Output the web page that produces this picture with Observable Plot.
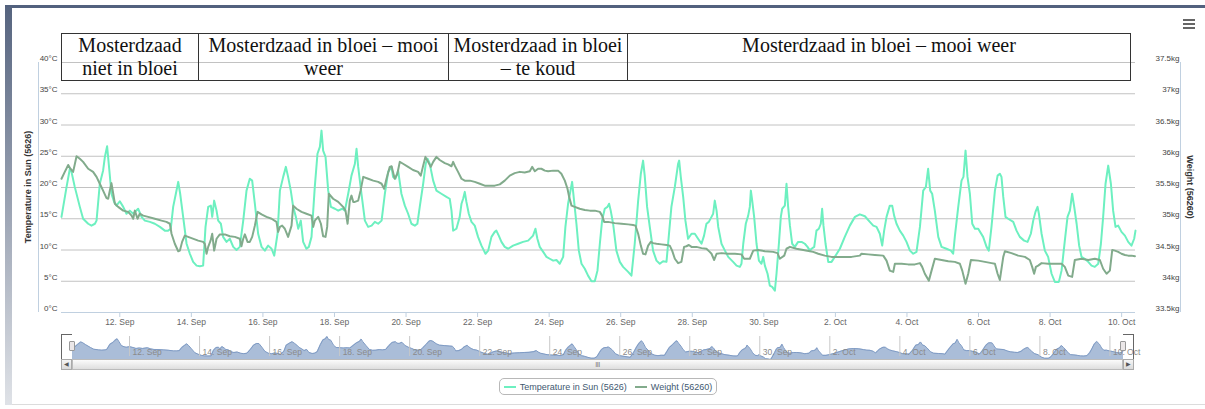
<!DOCTYPE html>
<html>
<head>
<meta charset="utf-8">
<script src="https://cdn.jsdelivr.net/npm/d3@7"></script>
<script src="https://cdn.jsdelivr.net/npm/@observablehq/plot@0.6"></script>
<style>
  html, body { margin: 0; padding: 0; background: #fff; }
  body { width: 1205px; height: 409px; position: relative; overflow: hidden; font-family: "Liberation Sans", Arial, sans-serif; }
  .abs { position: absolute; }
  #topline { left: 5px; top: 5px; width: 1200px; height: 2.5px; background: #52617e; }
  #leftstrip { left: 5px; top: 7px; width: 7px; height: 398px; background: linear-gradient(#56647f, #dfe2e7); }
  #panel { left: 12px; top: 9px; width: 1193px; height: 395px; background: #fff; border-top-left-radius: 6px; border-bottom: 1px solid #dcdcdc; }
  #main, #nav { position: absolute; left: 0; }
  #main { top: 0; }
  #nav { top: 333px; }
  table.notes { position: absolute; left: 61px; top: 33px; border-collapse: collapse; table-layout: fixed; width: 1069px;
    font-family: "Liberation Serif", "Times New Roman", serif; font-size: 20px; line-height: 23px; color: #111; }
  table.notes td { border: 1px solid #333; vertical-align: top; text-align: center; padding: 0 2px; height: 46px; }
  .ytitle { position: absolute; font-weight: bold; font-size: 9px; color: #333; white-space: nowrap; }
  #legend { left: 499px; top: 378px; width: 218px; height: 17px; border: 1px solid #b8b8b8; border-radius: 5px; box-sizing: border-box;
    font-size: 9px; color: #3E576F; display: flex; align-items: center; justify-content: center; gap: 8px; }
  #legend .item { display: flex; align-items: center; gap: 4px; }
  #legend .sw { width: 12px; height: 2px; }
  #menu { left: 1183px; top: 19px; width: 12px; }
  #menu div { height: 2px; background: #666; margin-bottom: 2px; }
  #scroll { left: 61px; top: 359px; width: 1073px; height: 11px; box-sizing: border-box; border: 1px solid #bbb; background: linear-gradient(#f4f4f4, #d9d9d9); }
  #thumb { left: 72px; top: 359px; width: 1051px; height: 11px; box-sizing: border-box; border: 1px solid #bbb; background: linear-gradient(#fbfbfb, #dedede);
    font-size: 7px; color: #777; text-align: center; line-height: 9px; letter-spacing: -0.5px; }
  .btn { top: 359px; width: 11px; height: 11px; box-sizing: border-box; border: 1px solid #aaa; background: linear-gradient(#f6f6f6, #dadada); font-size: 6px; color: #555; text-align: center; line-height: 9px; }
  .handle { top: 341px; width: 6px; height: 10px; box-sizing: border-box; border: 1px solid #999; border-radius: 1px; background: #ebe7e8; }
  .outline { background: #666; }
</style>
</head>
<body>
<div id="topline" class="abs"></div>
<div id="leftstrip" class="abs"></div>
<div id="panel" class="abs"></div>
<div id="main"></div>
<div id="nav"></div>

<div class="abs" id="scroll"></div>
<div class="abs" id="thumb">III</div>
<div class="abs btn" style="left:61px">&#9664;</div>
<div class="abs btn" style="left:1123px">&#9654;</div>
<div class="abs outline" style="left:61px; top:334px; width:11px; height:1px"></div>
<div class="abs outline" style="left:61px; top:334px; width:1px; height:25px"></div>
<div class="abs outline" style="left:1123px; top:334px; width:11px; height:1px"></div>
<div class="abs outline" style="left:1133px; top:334px; width:1px; height:25px"></div>
<div class="abs handle" style="left:69px"></div>
<div class="abs handle" style="left:1120px"></div>

<div class="abs" id="menu"><div></div><div></div><div></div></div>

<div class="ytitle" id="ltitle">Temperature in Sun (5626)</div>
<div class="ytitle" id="rtitle">Weight (56260)</div>

<table class="notes">
  <colgroup><col style="width:137px"><col style="width:250px"><col style="width:179px"><col style="width:503px"></colgroup>
  <tr>
    <td>Mosterdzaad niet in bloei</td>
    <td>Mosterdzaad in bloei – mooi weer</td>
    <td>Mosterdzaad in bloei – te koud</td>
    <td>Mosterdzaad in bloei – mooi weer</td>
  </tr>
</table>

<div class="abs" id="legend">
  <div class="item"><div class="sw" style="background:#6df0c0"></div><span>Temperature in Sun (5626)</span></div>
  <div class="item"><div class="sw" style="background:#82ab8c"></div><span>Weight (56260)</span></div>
</div>

<script>
// ---- data: hours since 12 Sep 00:00, value ----
const temperaturePoints = [
[-39.1,15.3],[-35.7,20.1],[-33.5,23.0],[-32.4,22.5],[-30.2,20.1],[-26.8,16.9],[-24.6,15.0],[-21.2,14.2],[-19.0,13.9],[-16.7,14.2],[-15.6,14.7],[-13.4,20.6],[-11.2,22.7],[-10.0,24.9],[-8.5,26.6],[-7.1,23.0],[-5.6,19.0],[-3.8,17.7],[-2.2,17.1],[0.0,17.8],[2.3,16.9],[4.5,15.8],[6.7,16.3],[9.0,15.8],[12.3,16.6],[14.6,15.3],[16.8,14.7],[20.2,14.5],[23.5,14.2],[26.9,13.7],[30.2,13.1],[32.4,13.1],[34.2,13.4],[35.8,16.9],[37.6,19.0],[39.2,20.9],[40.5,19.0],[42.5,15.3],[44.8,11.0],[47.0,9.4],[49.2,8.1],[51.5,7.5],[53.7,7.4],[55.9,7.5],[57.5,13.7],[59.3,16.9],[61.1,17.1],[62.0,15.3],[63.3,17.9],[64.9,16.3],[66.0,14.7],[67.8,14.2],[69.3,12.1],[71.6,11.3],[73.8,11.8],[76.1,10.5],[78.3,10.0],[80.5,10.5],[82.8,14.7],[85.0,19.5],[87.2,21.4],[88.8,21.1],[90.6,17.4],[92.8,12.6],[95.1,10.5],[97.3,9.9],[99.5,10.7],[101.8,10.2],[103.6,9.1],[105.8,12.6],[107.4,19.5],[109.6,21.7],[111.4,23.3],[112.9,21.7],[114.7,19.5],[116.3,16.9],[118.1,15.3],[119.7,13.4],[121.4,14.7],[123.0,11.3],[125.2,10.2],[126.8,10.5],[128.6,12.1],[130.8,20.1],[132.6,25.4],[134.2,26.5],[135.3,29.1],[136.4,25.9],[138.0,24.9],[139.8,19.5],[141.6,16.9],[144.3,16.6],[146.5,16.3],[149.2,16.6],[151.0,16.3],[153.2,19.0],[155.4,21.9],[157.7,23.8],[158.8,26.2],[159.9,23.3],[162.1,19.0],[164.4,14.7],[166.6,13.7],[168.9,13.9],[171.1,14.5],[173.3,14.2],[175.6,14.7],[177.8,19.0],[180.0,22.5],[182.3,23.3],
[183.3,21.7],[184.9,21.4],[186.7,22.7],[188.9,19.0],[191.2,17.1],[193.4,15.8],[195.6,14.2],[197.9,13.9],[199.6,14.2],[201.2,16.9],[203.5,20.6],[205.2,23.8],[206.4,24.6],[207.9,23.8],[210.2,21.1],[212.4,19.5],[215.7,19.0],[219.1,18.5],[221.3,18.2],[222.5,16.3],[223.6,13.1],[225.8,13.4],[228.0,15.3],[229.2,17.4],[230.3,18.2],[231.4,19.3],[232.5,17.7],[234.1,15.8],[235.9,14.5],[238.1,13.9],[240.3,12.1],[242.6,10.7],[245.3,9.4],[247.1,9.9],[249.3,12.1],[251.5,12.9],[252.6,13.1],[254.2,12.3],[256.0,11.3],[258.2,10.5],[260.5,10.2],[263.8,10.7],[267.2,11.0],[270.5,11.3],[273.9,11.5],[277.2,12.3],[278.8,13.4],[280.1,11.8],[281.7,10.5],[284.0,9.7],[286.2,8.9],[288.4,8.6],[290.7,8.3],[292.9,8.4],[295.1,7.8],[297.4,8.9],[298.9,13.7],[300.7,17.4],[302.3,19.5],[303.4,20.9],[304.7,17.9],[306.3,14.2],[307.9,9.9],[309.7,7.8],[311.9,7.0],[314.1,5.9],[316.4,5.0],[318.6,5.0],[320.4,6.7],[322.0,11.0],[323.5,14.7],[325.3,16.6],[327.1,16.9],[328.2,17.4],[329.3,16.3],[330.9,14.2],[333.1,9.9],[335.4,8.1],[337.6,7.3],[341.0,6.5],[343.2,5.9],[345.4,11.0],[347.7,17.9],[349.5,22.2],[351.0,24.3],[352.1,21.9],[353.7,16.9],[355.5,13.7],[357.7,9.9],[360.0,8.3],[362.2,7.8],[364.4,8.2],[366.7,8.1],[368.2,12.1],[370.0,16.9],[372.3,20.1],[374.5,23.8],[375.2,24.3],[376.3,21.7],[377.9,18.5],[379.4,14.7],[381.2,11.8],[383.5,12.6],[385.7,12.6],[387.9,11.8],[390.2,11.0],[391.9,12.3],[393.5,14.2],[395.1,14.5],[396.9,15.3],
[398.0,15.8],[399.1,17.9],[400.3,16.3],[401.4,13.7],[403.6,11.0],[405.9,9.9],[408.1,8.9],[411.4,8.1],[413.7,7.5],[415.9,7.3],[417.0,7.8],[418.2,11.0],[419.9,14.2],[421.5,15.5],[422.6,16.9],[423.3,19.5],[424.2,17.9],[425.5,15.3],[427.1,11.0],[428.7,8.3],[430.4,7.8],[431.6,8.9],[432.7,7.5],[434.5,6.2],[436.0,4.3],[437.6,4.1],[439.4,3.5],[440.5,6.2],[442.1,11.0],[443.4,15.3],[444.3,16.6],[446.1,17.1],[447.2,20.6],[448.3,16.9],[449.5,13.9],[451.0,11.0],[452.8,10.5],[455.0,11.3],[457.3,11.3],[459.5,11.0],[461.3,10.5],[462.9,9.9],[464.0,10.2],[465.8,10.5],[467.3,13.1],[468.9,13.4],[470.2,14.2],[471.1,16.6],[472.0,13.9],[473.4,11.0],[475.2,8.1],[477.4,8.1],[479.6,8.9],[483.0,10.2],[486.3,12.1],[489.7,13.9],[493.1,15.3],[496.4,15.7],[499.8,15.4],[503.1,14.5],[505.4,13.9],[507.6,13.7],[509.8,12.6],[511.4,10.7],[512.7,13.1],[514.3,15.3],[516.5,17.1],[518.1,17.1],[519.4,15.5],[521.0,14.2],[523.2,13.1],[525.5,12.3],[527.7,11.3],[530.0,9.9],[532.2,9.4],[534.4,9.7],[536.7,13.7],[538.9,19.5],[540.7,20.1],[542.2,23.0],[543.6,19.5],[544.9,19.0],[546.7,16.3],[549.0,12.1],[551.2,10.5],[554.5,10.2],[557.5,9.9],[559.0,9.4],[560.1,12.1],[562.4,16.9],[564.6,21.1],[565.9,21.7],[567.3,25.9],[568.6,21.7],[570.2,19.0],[571.8,14.2],[573.6,13.4],[575.8,13.4],[579.1,12.1],[581.4,10.5],[582.9,9.9],[584.7,13.7],[587.0,19.5],[588.8,21.9],[590.3,22.2],[591.4,21.7],[592.6,18.5],[594.1,15.3],[595.9,15.0],[599.3,14.5],[601.5,13.1],[603.7,12.1],[606.6,11.5],[608.9,11.3],[611.1,12.6],[612.7,14.7],[614.2,16.1],[615.6,16.9],[616.5,15.8],[618.3,12.6],[620.5,9.9],[622.7,8.9],[625.0,6.2],[627.2,4.9],[629.9,4.9],[631.7,6.7],[633.9,11.5],[635.7,15.3],[637.3,16.3],[638.8,19.0],[640.2,16.9],[641.8,14.2],[643.5,10.7],[645.1,8.9],[647.3,8.6],[649.6,8.1],[651.8,7.5],[654.0,7.3],[656.3,7.8],[658.1,11.0],[659.6,15.3],[661.2,20.6],[663.0,23.5],[664.8,20.6],[666.3,16.3],[667.9,13.7],[669.7,13.9],[671.9,12.9],[674.2,12.3],[676.4,11.3],[678.6,10.7],[680.4,11.8],[681.3,13.1]
];

const weightPoints = [
[-39.1,35.64],[-36.9,35.75],[-34.6,35.86],[-33.1,35.80],[-31.3,35.75],[-29.0,36.00],[-26.8,35.96],[-24.6,35.91],[-21.2,35.80],[-17.9,35.75],[-15.6,35.67],[-13.4,35.56],[-11.2,35.45],[-8.9,35.33],[-7.8,35.32],[-6.7,35.45],[-5.6,35.57],[-4.4,35.40],[-3.3,35.24],[-1.1,35.19],[2.3,35.13],[5.6,35.11],[7.9,35.05],[9.0,35.00],[10.1,35.13],[11.9,35.00],[13.4,35.08],[15.7,35.05],[19.0,35.03],[23.5,35.00],[28.0,34.97],[31.3,34.95],[33.6,34.92],[34.7,34.76],[36.9,34.60],[39.2,34.48],[40.3,34.49],[41.8,34.63],[43.6,34.73],[48.1,34.69],[52.6,34.65],[55.9,34.63],[57.0,34.60],[58.2,34.44],[59.3,34.55],[60.9,34.65],[62.0,34.76],[63.3,34.49],[64.9,34.68],[67.1,34.75],[70.5,34.75],[73.8,34.72],[77.2,34.71],[80.5,34.68],[81.6,34.56],[82.8,34.68],[83.9,34.75],[85.7,34.63],[87.2,34.63],[88.8,34.71],[90.6,34.89],[92.4,35.11],[95.1,35.07],[98.4,35.03],[101.8,35.00],[105.1,34.95],[106.2,34.79],[107.4,34.87],[108.9,34.89],[110.7,34.84],[112.9,34.71],[115.2,34.89],[116.3,35.21],[118.5,35.16],[121.9,35.11],[125.2,35.08],[128.6,35.05],[129.7,34.87],[130.8,34.97],[133.1,35.03],[134.9,34.92],[136.4,34.72],[138.0,34.71],[139.1,34.87],[140.2,35.40],[143.1,35.32],[146.5,35.27],[149.8,35.19],[151.4,35.13],[152.8,34.92],[154.3,35.29],[155.4,35.37],[156.6,35.27],[157.7,35.27],[159.9,35.29],[161.5,35.45],[163.3,35.67],[166.6,35.64],[170.0,35.61],[173.3,35.59],[175.6,35.56],[177.3,35.48],[178.9,35.64],[181.1,35.83],[182.3,35.84],
[184.4,35.64],[186.2,35.72],[187.8,35.91],[190.0,35.88],[193.4,35.83],[196.7,35.78],[200.1,35.75],[201.9,35.69],[203.5,35.85],[205.0,35.99],[206.8,35.91],[208.6,35.83],[210.2,35.91],[212.4,35.99],[214.6,35.94],[218.0,35.89],[220.2,35.87],[222.5,35.84],[223.6,35.91],[224.7,35.85],[226.9,35.75],[229.2,35.64],[231.4,35.61],[234.8,35.61],[238.1,35.59],[241.5,35.56],[244.8,35.53],[248.2,35.53],[251.5,35.53],[254.9,35.55],[258.2,35.61],[261.6,35.69],[264.9,35.73],[268.3,35.75],[271.6,35.74],[275.0,35.76],[276.6,35.83],[278.4,35.76],[280.6,35.80],[282.8,35.80],[285.1,35.77],[287.3,35.76],[290.7,35.77],[294.0,35.77],[296.2,35.72],[298.5,35.61],[300.3,35.48],[301.4,35.35],[303.0,35.21],[305.2,35.19],[308.5,35.16],[311.9,35.14],[315.3,35.13],[318.6,35.13],[322.0,35.11],[323.5,35.05],[324.9,34.95],[327.5,34.95],[332.0,34.93],[336.5,34.92],[341.0,34.91],[344.3,34.90],[345.9,34.89],[347.7,34.76],[349.5,34.57],[351.0,34.44],[352.6,34.43],[354.4,34.57],[356.2,34.63],[357.7,34.61],[360.0,34.60],[363.3,34.59],[366.7,34.58],[368.9,34.57],[370.5,34.49],[372.3,34.36],[374.5,34.29],[376.7,34.31],[378.5,34.55],[380.1,34.56],[381.7,34.58],[383.5,34.55],[386.8,34.55],[390.2,34.53],[393.5,34.52],[395.7,34.47],[396.9,34.44],
[398.7,34.34],[400.3,34.44],[403.6,34.45],[408.1,34.44],[412.6,34.44],[417.0,34.43],[418.8,34.36],[422.6,34.36],[424.9,34.49],[428.2,34.50],[432.7,34.48],[438.3,34.47],[441.2,34.45],[442.7,34.36],[445.7,34.41],[447.2,34.52],[449.5,34.55],[453.9,34.52],[458.4,34.50],[462.9,34.48],[465.1,34.47],[468.5,34.44],[472.9,34.41],[477.4,34.39],[484.1,34.39],[490.8,34.39],[496.4,34.41],[497.5,34.44],[502.0,34.43],[506.5,34.42],[512.1,34.41],[514.3,34.33],[516.5,34.17],[518.8,34.15],[519.9,34.28],[524.4,34.28],[528.8,34.27],[533.3,34.27],[536.7,34.29],[538.2,34.23],[540.0,34.12],[542.7,34.01],[544.5,34.17],[546.7,34.36],[551.2,34.34],[555.7,34.32],[560.1,34.31],[563.5,34.28],[565.1,34.17],[567.3,33.96],[569.1,34.12],[570.9,34.34],[575.8,34.33],[580.3,34.31],[584.7,34.29],[587.0,34.28],[588.8,34.12],[590.3,34.02],[592.6,34.39],[593.7,34.48],[598.1,34.45],[602.6,34.41],[607.1,34.39],[610.4,34.34],[612.0,34.23],[613.3,34.12],[614.5,34.23],[616.0,34.25],[618.3,34.29],[622.7,34.28],[627.2,34.28],[631.7,34.28],[633.9,34.23],[636.2,34.09],[638.8,34.07],[640.6,34.34],[645.1,34.36],[649.6,34.34],[654.0,34.36],[657.4,34.34],[659.6,34.20],[661.9,34.12],[664.1,34.17],[665.7,34.50],[667.5,34.49],[669.7,34.47],[671.9,34.44],[674.2,34.42],[676.4,34.41],[678.6,34.41],[680.9,34.40]
];

const tempTicks = [0, 5, 10, 15, 20, 25, 30, 35, 40];
const weightTicks = [33.5, 34, 34.5, 35, 35.5, 36, 36.5, 37, 37.5];
const dateTicks = ["2014-09-12","2014-09-14","2014-09-16","2014-09-18","2014-09-20","2014-09-22","2014-09-24","2014-09-26","2014-09-28","2014-09-30","2014-10-02","2014-10-04","2014-10-06","2014-10-08","2014-10-10"];

const tempColor = "#6df0c0";
const weightColor = "#82ab8c";

// ---- build tables ----
const base = Date.UTC(2014, 8, 12);
const toDate = h => new Date(base + h * 3600000);
const tempRows = temperaturePoints.map(([h, v]) => ({date: toDate(h), value: v}));
const weightRows = weightPoints.map(([h, v]) => ({date: toDate(h), value: v}));
const tickDates = dateTicks.map(s => new Date(s + "T00:00:00Z"));
const fmt = d3.utcFormat("%-d. %b");
const xDomain = [tempRows[0].date, tempRows[tempRows.length - 1].date];
// weight axis (right) shares the temperature scale: 33.5kg ↔ 0°C, 0.5kg ↔ 5°C
const wToT = w => (w - 33.5) * 10;
const weightTickPos = weightTicks.map(wToT);
const weightLabel = new Map(weightTicks.map(w => [wToT(w), d3.format("~g")(w) + "kg"]));

const main = Plot.plot({
  width: 1205, height: 330,
  marginLeft: 61, marginRight: 70, marginTop: 62, marginBottom: 18,
  style: {fontFamily: "'Liberation Sans', Arial, sans-serif", background: "transparent", overflow: "visible"},
  x: {type: "utc", domain: xDomain},
  y: {domain: [0, 40]},
  marks: [
    Plot.gridY(tempTicks.filter(t => t > 0), {stroke: "#c2c2c2", strokeOpacity: 1, strokeWidth: 1}),
    Plot.ruleY([0], {stroke: "#c0d0e0"}),
    Plot.lineY(tempRows, {x: "date", y: "value", stroke: tempColor, strokeWidth: 2}),
    Plot.lineY(weightRows, {x: "date", y: d => wToT(d.value), stroke: weightColor, strokeWidth: 2}),
    Plot.axisY(tempTicks, {anchor: "left", tickSize: 0, tickPadding: 4, dy: -4, tickFormat: d => d + "°C", fontSize: 8, fill: "#444", label: null}),
    Plot.axisY(weightTickPos, {anchor: "right", tickSize: 0, tickPadding: 44, textAnchor: "end", dy: -4, tickFormat: d => weightLabel.get(d), fontSize: 8, fill: "#444", label: null}),
    Plot.axisX(tickDates, {anchor: "bottom", tickSize: 5, tickPadding: 1, stroke: "#c0d0e0", fill: "#666", tickFormat: fmt, fontSize: 8.5, label: null})
  ]
});
document.getElementById("main").append(main);

const tExtent = d3.extent(temperaturePoints, d => d[1]);
const nav = Plot.plot({
  width: 1205, height: 26,
  marginLeft: 72, marginRight: 82, marginTop: 3, marginBottom: 0,
  style: {fontFamily: "'Liberation Sans', Arial, sans-serif", background: "transparent", overflow: "visible"},
  x: {type: "utc", domain: xDomain, axis: null},
  y: {domain: tExtent, axis: null},
  marks: [
    Plot.areaY(tempRows, {x: "date", y1: tExtent[0], y2: "value", fill: "#aabdd8"}),
    Plot.lineY(tempRows, {x: "date", y: "value", stroke: "#7f9bc4", strokeWidth: 1}),
    Plot.ruleX(tickDates, {y1: tExtent[0], y2: tExtent[1], insetTop: -3, stroke: "#c8c8c8"}),
    Plot.text(tickDates, {x: d => d, text: fmt, frameAnchor: "bottom", textAnchor: "start", dx: 3, dy: -5, fill: "#8a8a8a", fontSize: 8.5})
  ]
});
document.getElementById("nav").append(nav);

// axis titles and vertical axis lines
const lt = document.getElementById("ltitle");
lt.style.left = "28px"; lt.style.top = "187px"; lt.style.transform = "translate(-50%,-50%) rotate(-90deg)";
const rt = document.getElementById("rtitle");
rt.style.left = "1190px"; rt.style.top = "187px"; rt.style.transform = "translate(-50%,-50%) rotate(90deg)";
for (const x of [38, 1180]) {
  const l = document.createElement("div");
  l.className = "abs";
  Object.assign(l.style, {left: x + "px", top: "62px", width: "1px", height: "250px", background: "#c0d0e0"});
  document.body.append(l);
}
</script>
</body>
</html>
